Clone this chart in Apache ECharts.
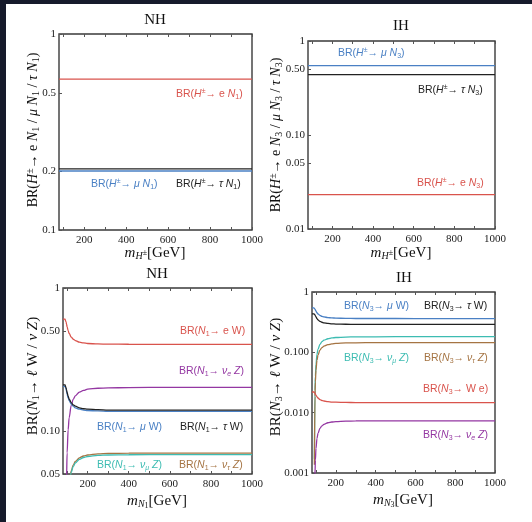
<!DOCTYPE html>
<html><head><meta charset="utf-8">
<script src="https://cdn.jsdelivr.net/npm/echarts@6/dist/echarts.min.js"></script>
<style>html,body{margin:0;padding:0;background:#fff;}#c{width:532px;height:522px;}</style>
</head><body><div id="c"></div>
<script>
// ---------- data ----------
const hMass = [80, 1000];
const nhHeN = [0.588, 0.588];
const nhHmuN = [0.200, 0.200];
const nhHtauN = [0.205, 0.205];
const ihHeN = [0.0232, 0.0232];
const ihHmuN = [0.547, 0.547];
const ihHtauN = [0.438, 0.438];

const nMass = [80, 85, 90, 92, 95, 97, 100, 105, 110, 120, 130, 140, 160, 180, 200, 250, 300, 400, 600, 800, 1000];
// NH, N1 decays
const nhEW    = [0.605,0.605,0.605,0.603,0.579,0.560,0.535,0.503,0.481,0.454,0.438,0.429,0.418,0.413,0.409,0.406,0.405,0.404,0.403,0.403,0.403];
const nhMuW   = [0.205,0.205,0.205,0.204,0.196,0.190,0.181,0.170,0.163,0.154,0.149,0.145,0.142,0.140,0.139,0.138,0.137,0.137,0.137,0.137,0.137];
const nhTauW  = [0.210,0.210,0.210,0.209,0.201,0.194,0.186,0.175,0.167,0.158,0.152,0.149,0.145,0.143,0.142,0.141,0.140,0.140,0.140,0.140,0.140];
const nhNueZ  = [null,null,null,0.0019,0.026,0.0449,0.0702,0.102,0.124,0.151,0.167,0.176,0.187,0.192,0.196,0.199,0.200,0.201,0.202,0.202,0.202];
const nhNumuZ = [null,null,null,0.00065,0.0088,0.0152,0.0238,0.0346,0.0421,0.0513,0.0565,0.0597,0.0633,0.0652,0.0663,0.0675,0.0679,0.0682,0.0683,0.0683,0.0683];
const nhNutauZ= [null,null,null,0.00066,0.0090,0.0156,0.0244,0.0355,0.0432,0.0525,0.0579,0.0612,0.0649,0.0668,0.0679,0.0691,0.0696,0.0699,0.0700,0.0700,0.0700];
// IH, N3 decays
const ihEW    = [0.0220,0.0220,0.0220,0.0219,0.0211,0.0204,0.0194,0.0183,0.0175,0.0165,0.0159,0.0156,0.0152,0.0150,0.0149,0.0148,0.0147,0.0147,0.0147,0.0147,0.0147];
const ihMuW   = [0.545,0.545,0.545,0.543,0.522,0.505,0.482,0.453,0.433,0.409,0.395,0.386,0.377,0.372,0.369,0.366,0.364,0.364,0.363,0.363,0.363];
const ihTauW  = [0.435,0.435,0.435,0.434,0.416,0.403,0.385,0.361,0.346,0.326,0.315,0.308,0.301,0.297,0.294,0.292,0.291,0.290,0.290,0.290,0.290];
const ihNueZ  = [null,null,null,0.00007,0.00095,0.00163,0.00255,0.00372,0.00452,0.0055,0.00606,0.00641,0.0068,0.0070,0.00711,0.00724,0.00729,0.00732,0.00733,0.00733,0.00733];
const ihNumuZ = [null,null,null,0.00172,0.0234,0.0404,0.0632,0.0921,0.112,0.136,0.150,0.159,0.168,0.173,0.176,0.179,0.181,0.181,0.182,0.182,0.182];
const ihNutauZ= [null,null,null,0.00137,0.0187,0.0323,0.0505,0.0735,0.0894,0.109,0.120,0.127,0.134,0.138,0.141,0.143,0.144,0.145,0.145,0.145,0.145];

// ticks
const xTicks = [200, 400, 600, 800, 1000];
const xMinor = [100, 200, 300, 400, 500, 600, 700, 800, 900, 1000];
const yTicksTL = [0.1, 0.2, 0.5, 1];     const yLabelsTL = ['0.1', '0.2', '0.5', '1'];
const yTicksTR = [0.01, 0.05, 0.1, 0.5, 1]; const yLabelsTR = ['0.01', '0.05', '0.10', '0.50', '1'];
const yTicksBL = [0.05, 0.1, 0.5, 1];    const yLabelsBL = ['0.05', '0.10', '0.50', '1'];
const yTicksBR = [0.001, 0.01, 0.1, 1];  const yLabelsBR = ['0.001', '0.010', '0.100', '1'];

// ---------- styling ----------
const C = {red:'#d9534c', blue:'#4a80c4', black:'#222222', purple:'#9437a2', cyan:'#3dbcb2', brown:'#a57443'};
const SERIF = '"Liberation Serif","DejaVu Serif",serif';
const SANS = '"Liberation Sans",Arial,sans-serif';

const grids = [
  {left: 59, top: 34, width: 193, height: 196},
  {left: 308, top: 41, width: 187, height: 188},
  {left: 63, top: 288, width: 189, height: 186},
  {left: 312, top: 292, width: 183, height: 181}
];
const yCfg = [
  {min: 0.1, ticks: yTicksTL, labels: yLabelsTL},
  {min: 0.01, ticks: yTicksTR, labels: yLabelsTR},
  {min: 0.05, ticks: yTicksBL, labels: yLabelsBL},
  {min: 0.001, ticks: yTicksBR, labels: yLabelsBR}
];

const xAxes = [], yAxes = [];
grids.forEach((g, i) => {
  xAxes.push({
    type: 'value', gridIndex: i, min: 80, max: 1000, position: 'bottom',
    axisLine: {show: false}, splitLine: {show: false},
    axisTick: {show: true, inside: true, length: 3, customValues: xMinor, lineStyle: {color: '#555'}},
    axisLabel: {customValues: xTicks, fontFamily: SERIF, fontSize: 11, color: '#222', margin: 5, formatter: v => String(v)}
  });
  xAxes.push({
    type: 'value', gridIndex: i, min: 80, max: 1000, position: 'top',
    axisLine: {show: false}, splitLine: {show: false}, axisLabel: {show: false},
    axisTick: {show: true, inside: true, length: 3, customValues: xMinor, lineStyle: {color: '#555'}}
  });
  const yc = yCfg[i];
  yAxes.push({
    type: 'log', gridIndex: i, min: yc.min, max: 1, logBase: 10, position: 'left',
    axisLine: {show: false}, splitLine: {show: false}, minorTick: {show: false},
    axisTick: {show: true, inside: true, length: 3, customValues: yc.ticks, lineStyle: {color: '#555'}},
    axisLabel: {customValues: yc.ticks, fontFamily: SERIF, fontSize: 11, color: '#222', margin: 3,
      formatter: v => { const k = yc.ticks.findIndex(t => Math.abs(t - v) / t < 1e-6); return k >= 0 ? yc.labels[k] : ''; }}
  });
});

function pts(xs, ys) { const out = []; xs.forEach((x, k) => { if (ys[k] != null) out.push([x, ys[k]]); }); return out; }
function line(gi, xs, ys, color) {
  return {type: 'line', xAxisIndex: gi * 2, yAxisIndex: gi, data: pts(xs, ys), showSymbol: false,
    smooth: 0.35, smoothMonotone: 'x', clip: true, lineStyle: {color, width: 1.3}, itemStyle: {color}, silent: true, animation: false};
}
const series = [
  line(0, hMass, nhHeN, C.red), line(0, hMass, nhHmuN, C.blue), line(0, hMass, nhHtauN, C.black),
  line(1, hMass, ihHeN, C.red), line(1, hMass, ihHmuN, C.blue), line(1, hMass, ihHtauN, C.black),
  line(2, nMass, nhEW, C.red), line(2, nMass, nhNueZ, C.purple), line(2, nMass, nhMuW, C.blue), line(2, nMass, nhTauW, C.black),
  line(2, nMass, nhNutauZ, C.brown), line(2, nMass, nhNumuZ, C.cyan),
  line(3, nMass, ihMuW, C.blue), line(3, nMass, ihTauW, C.black), line(3, nMass, ihNumuZ, C.cyan), line(3, nMass, ihNutauZ, C.brown),
  line(3, nMass, ihEW, C.red), line(3, nMass, ihNueZ, C.purple)
];

// ---------- text ----------
function rich(fs, fam) {
  const s = Math.round(fs * 0.68);
  const ss = Math.round(fs * 0.5);
  const lh = fs + 2;
  return {
    n: {fontSize: fs, fontFamily: fam, lineHeight: lh},
    i: {fontSize: fs, fontFamily: fam, fontStyle: 'italic', lineHeight: lh},
    sub: {fontSize: s, fontFamily: fam, lineHeight: s, verticalAlign: 'bottom'},
    subi: {fontSize: s, fontFamily: fam, fontStyle: 'italic', lineHeight: s, verticalAlign: 'bottom'},
    sup: {fontSize: s, fontFamily: fam, lineHeight: s, verticalAlign: 'top'},
    ssub: {fontSize: ss, fontFamily: fam, lineHeight: ss - 2, verticalAlign: 'bottom'},
    ssup: {fontSize: ss, fontFamily: fam, lineHeight: lh, verticalAlign: 'middle'}
  };
}
function txt(x, y, text, color, fs, fam, align, rot) {
  return {type: 'text', x, y, rotation: rot || 0, silent: true,
    style: {text, fill: color, align: align || 'left', verticalAlign: 'middle', rich: rich(fs, fam), fontFamily: fam, fontSize: fs}};
}
const lab = (x, y, t, c) => txt(x, y, t, c, 10.5, SANS, 'left');
const graphic = [
  {type: 'rect', shape: {x: 0, y: 0, width: 6, height: 522}, style: {fill: '#161a2b'}, silent: true},
  {type: 'rect', shape: {x: 0, y: 0, width: 532, height: 4}, style: {fill: '#161a2b'}, silent: true},
  // titles
  txt(155, 20, '{n|NH}', '#111', 15, SERIF, 'center'),
  txt(401, 26, '{n|IH}', '#111', 15, SERIF, 'center'),
  txt(157, 274, '{n|NH}', '#111', 15, SERIF, 'center'),
  txt(404, 278, '{n|IH}', '#111', 15, SERIF, 'center'),
  // x axis names
  txt(155, 253, '{i|m}{subi|H}{ssup|±}{n|[GeV]}', '#111', 15, SERIF, 'center'),
  txt(401, 253, '{i|m}{subi|H}{ssup|±}{n|[GeV]}', '#111', 15, SERIF, 'center'),
  txt(157, 501, '{i|m}{subi|N}{ssub|1}{n|[GeV]}', '#111', 15, SERIF, 'center'),
  txt(403, 500, '{i|m}{subi|N}{ssub|3}{n|[GeV]}', '#111', 15, SERIF, 'center'),
  // y axis names
  txt(33, 130, '{n|BR(}{i|H}{sup|±}{n|→ e }{i|N}{sub|1}{n| / }{i|μ N}{sub|1}{n| / }{i|τ N}{sub|1}{n|)}', '#111', 14, SERIF, 'center', Math.PI / 2),
  txt(276, 135, '{n|BR(}{i|H}{sup|±}{n|→ e }{i|N}{sub|3}{n| / }{i|μ N}{sub|3}{n| / }{i|τ N}{sub|3}{n|)}', '#111', 14, SERIF, 'center', Math.PI / 2),
  txt(33, 376, '{n|BR(}{i|N}{sub|1}{n|→ }{i|ℓ}{n| W / }{i|ν}{n| }{i|Z}{n|)}', '#111', 15, SERIF, 'center', Math.PI / 2),
  txt(276, 377, '{n|BR(}{i|N}{sub|3}{n|→ }{i|ℓ}{n| W / }{i|ν}{n| }{i|Z}{n|)}', '#111', 15, SERIF, 'center', Math.PI / 2),
  // top-left labels
  lab(176, 94, '{n|BR(}{i|H}{sup|±}{n|→ e }{i|N}{sub|1}{n|)}', C.red),
  lab(91, 184, '{n|BR(}{i|H}{sup|±}{n|→ }{i|μ N}{sub|1}{n|)}', C.blue),
  lab(176, 184, '{n|BR(}{i|H}{sup|±}{n|→ }{i|τ N}{sub|1}{n|)}', C.black),
  // top-right labels
  lab(338, 53, '{n|BR(}{i|H}{sup|±}{n|→ }{i|μ N}{sub|3}{n|)}', C.blue),
  lab(418, 90, '{n|BR(}{i|H}{sup|±}{n|→ }{i|τ N}{sub|3}{n|)}', C.black),
  lab(417, 183, '{n|BR(}{i|H}{sup|±}{n|→ e }{i|N}{sub|3}{n|)}', C.red),
  // bottom-left labels
  lab(180, 331, '{n|BR(}{i|N}{sub|1}{n|→ e W)}', C.red),
  lab(179, 371, '{n|BR(}{i|N}{sub|1}{n|→ }{i|ν}{subi|e}{n| }{i|Z}{n|)}', C.purple),
  lab(97, 427, '{n|BR(}{i|N}{sub|1}{n|→ }{i|μ}{n| W)}', C.blue),
  lab(180, 427, '{n|BR(}{i|N}{sub|1}{n|→ }{i|τ}{n| W)}', C.black),
  lab(97, 465, '{n|BR(}{i|N}{sub|1}{n|→ }{i|ν}{subi|μ}{n| }{i|Z}{n|)}', C.cyan),
  lab(179, 465, '{n|BR(}{i|N}{sub|1}{n|→ }{i|ν}{subi|τ}{n| }{i|Z}{n|)}', C.brown),
  // bottom-right labels
  lab(344, 306, '{n|BR(}{i|N}{sub|3}{n|→ }{i|μ}{n| W)}', C.blue),
  lab(424, 306, '{n|BR(}{i|N}{sub|3}{n|→ }{i|τ}{n| W)}', C.black),
  lab(344, 358, '{n|BR(}{i|N}{sub|3}{n|→ }{i|ν}{subi|μ}{n| }{i|Z}{n|)}', C.cyan),
  lab(424, 358, '{n|BR(}{i|N}{sub|3}{n|→ }{i|ν}{subi|τ}{n| }{i|Z}{n|)}', C.brown),
  lab(423, 389, '{n|BR(}{i|N}{sub|3}{n|→ W e)}', C.red),
  lab(423, 435, '{n|BR(}{i|N}{sub|3}{n|→ }{i|ν}{subi|e}{n| }{i|Z}{n|)}', C.purple)
];

const chart = echarts.init(document.getElementById('c'), null, {renderer: 'canvas'});
chart.setOption({
  animation: false,
  backgroundColor: '#ffffff',
  grid: grids.map(g => Object.assign({show: true, borderColor: '#3a3a3a', borderWidth: 1.4, backgroundColor: 'transparent', containLabel: false}, g)),
  xAxis: xAxes,
  yAxis: yAxes,
  series,
  graphic
});
</script></body></html>
